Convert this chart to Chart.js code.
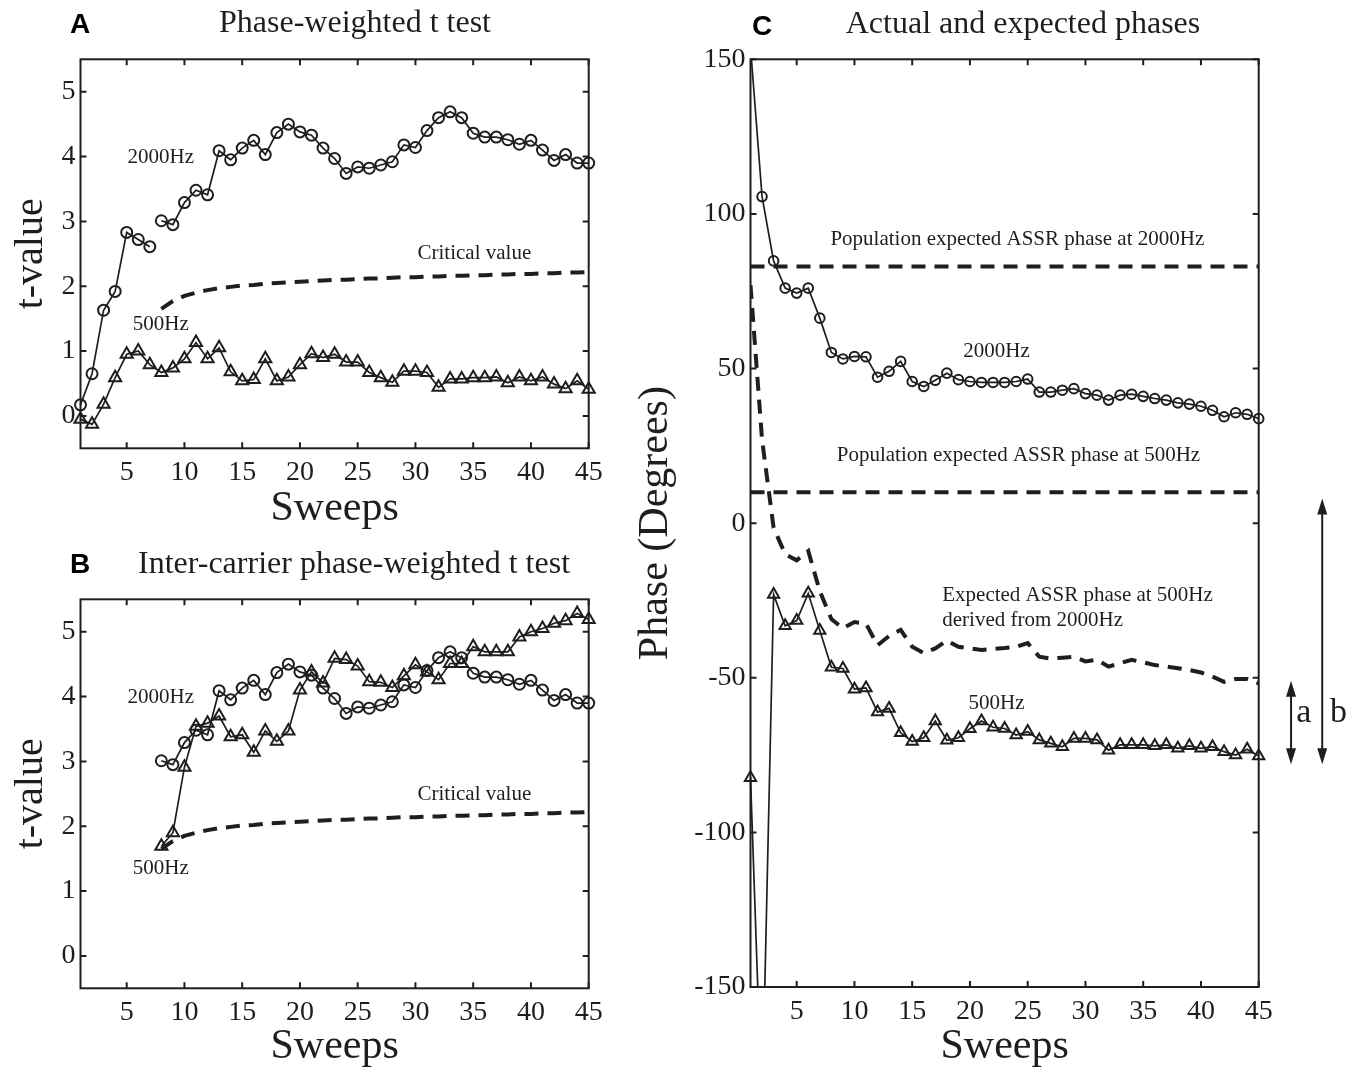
<!DOCTYPE html>
<html>
<head>
<meta charset="utf-8">
<script src="https://cdn.jsdelivr.net/npm/chart.js@4.4.0/dist/chart.umd.min.js"></script>
<style>
  html, body { margin: 0; padding: 0; background: #fff; overflow: hidden; }
  #wrap { position: relative; width: 1360px; height: 1068px; }
  canvas { position: absolute; }
</style>
</head>
<body>
<div id="wrap">
  <canvas id="panel-a" width="620" height="540" style="left:0px;top:0px;width:620px;height:540px"></canvas>
  <canvas id="panel-b" width="620" height="528" style="left:0px;top:540px;width:620px;height:528px"></canvas>
  <canvas id="panel-c" width="740" height="1068" style="left:620px;top:0px;width:740px;height:1068px"></canvas>
</div>
<script>
// x axis: sweep number
var sweeps = [1, 2, 3, 4, 5, 6, 7, 8, 9, 10, 11, 12, 13, 14, 15, 16, 17, 18, 19, 20, 21, 22, 23,
  24, 25, 26, 27, 28, 29, 30, 31, 32, 33, 34, 35, 36, 37, 38, 39, 40, 41, 42, 43, 44, 45];
var x_ticks = [5, 10, 15, 20, 25, 30, 35, 40, 45];
var t_ticks = [0, 1, 2, 3, 4, 5];
var phase_ticks = [-150, -100, -50, 0, 50, 100, 150];

// panel A / B: t-values
var t_2000 = [0.17, 0.65, 1.63, 1.92, 2.83, 2.72, 2.61, 3.01, 2.95, 3.29, 3.48, 3.41, 4.09, 3.95, 4.13,
  4.25, 4.03, 4.37, 4.50, 4.38, 4.33, 4.13, 3.97, 3.74, 3.84, 3.82, 3.87, 3.92, 4.18, 4.14, 4.40,
  4.60, 4.69, 4.60, 4.36, 4.30, 4.30, 4.26, 4.19, 4.25, 4.10, 3.94, 4.03, 3.90, 3.90];
// the 2000Hz trace in A is broken between sweep 7 and 8
var t_2000_gap_after = 7;
var t_500 = [-0.05, -0.13, 0.18, 0.59, 0.95, 1.00, 0.79, 0.67, 0.74, 0.88, 1.13, 0.88, 1.05, 0.68, 0.54,
  0.56, 0.88, 0.54, 0.60, 0.79, 0.96, 0.90, 0.95, 0.83, 0.83, 0.67, 0.59, 0.52, 0.69, 0.69, 0.67,
  0.44, 0.57, 0.57, 0.59, 0.59, 0.60, 0.51, 0.60, 0.54, 0.60, 0.49, 0.42, 0.54, 0.41];
var t_500_inter = [null, null, null, null, null, null, null, 1.69, 1.90, 2.91, 3.54, 3.59, 3.70, 3.38, 3.41,
  3.14, 3.47, 3.31, 3.47, 4.10, 4.38, 4.21, 4.59, 4.57, 4.47, 4.23, 4.22, 4.14, 4.32, 4.49, 4.38,
  4.26, 4.51, 4.51, 4.77, 4.69, 4.69, 4.69, 4.92, 5.00, 5.05, 5.13, 5.17, 5.28, 5.19];
var t_critical = [null, null, null, null, null, null, null, 1.65, 1.77, 1.85, 1.90, 1.94, 1.97, 1.99, 2.01,
  2.02, 2.04, 2.05, 2.06, 2.07, 2.08, 2.09, 2.10, 2.10, 2.11, 2.12, 2.12, 2.13, 2.14, 2.14, 2.15,
  2.15, 2.16, 2.16, 2.17, 2.17, 2.18, 2.18, 2.19, 2.19, 2.20, 2.20, 2.21, 2.21, 2.22];

// panel C: phases in degrees
var phase_2000 = [154, 105.6, 84.8, 76.0, 74.4, 76.0, 66.3, 55.2, 53.1, 53.9, 53.8, 47.2, 49.1, 52.3, 45.8,
  44.2, 46.2, 48.5, 46.4, 45.8, 45.5, 45.5, 45.5, 45.8, 46.6, 42.4, 42.4, 43.0, 43.5, 41.9, 41.4,
  39.8, 41.4, 41.7, 41.0, 40.3, 39.8, 38.9, 38.5, 37.8, 36.5, 34.4, 35.7, 35.2, 33.8];
var phase_500 = [-82.3, -190, -23.1, -33.2, -31.5, -22.7, -34.7, -46.6, -47.0, -53.7, -53.3, -61.1, -59.9, -67.8, -70.6,
  -69.4, -64.0, -70.2, -69.4, -66.5, -64.0, -66.0, -66.4, -68.5, -67.4, -70.1, -71.2, -72.3, -69.6, -69.6, -70.1,
  -73.4, -71.7, -71.7, -71.7, -72.0, -71.7, -72.8, -72.0, -72.8, -72.3, -73.9, -75.0, -73.1, -75.3];
var phase_500_expected = [77, 27, -1.5, -10, -12, -9, -22, -31, -34, -32, -32.5, -39.5, -36.5, -34.5, -40,
  -42, -40.5, -38, -40, -40.5, -41, -40.7, -40.4, -40, -38.8, -43.2, -43.8, -43.5, -43.2, -44.7, -44.2,
  -46.4, -45.3, -44.2, -45, -45.9, -46.4, -46.9, -47.5, -48.3, -49.6, -51.3, -50.4, -50.4, -51.8];
var pop_phase_2000 = 83;
var pop_phase_500 = 10;
// double arrows a and b, in degrees
var arrow_a = [-51, -78];
var arrow_b = [8, -78];

var serif = "'Liberation Serif', 'Times New Roman', serif";
var sans = "'Liberation Sans', Arial, sans-serif";
var ink = '#1e1e1e';
var tick_len = 6;

function to_points(values) {
  return sweeps.map(function(s, i) { return {x: s, y: values[i]}; });
}

function marker_line(values, style, radius) {
  return {
    data: to_points(values),
    borderColor: ink,
    borderWidth: 1.7,
    pointStyle: style,
    pointRadius: radius,
    pointBorderWidth: 2,
    pointBorderColor: ink,
    pointBackgroundColor: 'rgba(0,0,0,0)',
    clip: {left: 8, right: 8, top: 0, bottom: 0},
    tension: 0
  };
}

function dashed_line(points) {
  return {
    data: points,
    borderColor: ink,
    borderWidth: 4,
    borderDash: [14, 9],
    pointRadius: 0,
    clip: 0,
    tension: 0
  };
}

function make_scales(spec) {
  return {
    x: {
      type: 'linear', min: 1, max: 45,
      afterBuildTicks: function(scale) { scale.ticks = x_ticks.map(function(v) { return {value: v}; }); },
      afterFit: function(scale) { scale.height = spec.x_height; },
      grid: {display: false, drawTicks: false},
      border: {display: false},
      ticks: {font: {family: serif, size: 28}, color: ink, padding: 8, maxRotation: 0, autoSkip: false},
      title: {display: true, text: 'Sweeps', color: ink,
        font: {family: serif, size: 42, lineHeight: 1}, padding: {top: 0, bottom: spec.x_title_pad}}
    },
    y: {
      type: 'linear', min: spec.y_min, max: spec.y_max,
      afterBuildTicks: function(scale) { scale.ticks = spec.y_ticks.map(function(v) { return {value: v}; }); },
      afterFit: function(scale) { scale.width = spec.y_width; },
      grid: {display: false, drawTicks: false},
      border: {display: false},
      ticks: {font: {family: serif, size: 28}, color: ink, padding: 5, autoSkip: false},
      title: {display: true, text: spec.y_title, color: ink,
        font: {family: serif, size: spec.y_title_size, lineHeight: 1}, padding: {top: spec.y_title_pad, bottom: 0}}
    }
  };
}

// box, inward ticks, panel letter, title, notes and arrows
function panel_plugin(spec) {
  return {
    id: 'panel_' + spec.letter,
    afterDraw: function(chart) {
      var ctx = chart.ctx;
      var area = chart.chartArea;
      var xs = chart.scales.x;
      var ys = chart.scales.y;
      ctx.save();
      ctx.strokeStyle = ink;
      ctx.lineWidth = 2;
      ctx.strokeRect(area.left, area.top, area.right - area.left, area.bottom - area.top);
      ctx.beginPath();
      xs.ticks.forEach(function(t) {
        var px = xs.getPixelForValue(t.value);
        ctx.moveTo(px, area.bottom); ctx.lineTo(px, area.bottom - tick_len);
        ctx.moveTo(px, area.top); ctx.lineTo(px, area.top + tick_len);
      });
      ys.ticks.forEach(function(t) {
        var py = ys.getPixelForValue(t.value);
        ctx.moveTo(area.left, py); ctx.lineTo(area.left + tick_len, py);
        ctx.moveTo(area.right, py); ctx.lineTo(area.right - tick_len, py);
      });
      ctx.stroke();

      ctx.fillStyle = '#000';
      ctx.textBaseline = 'middle';
      ctx.textAlign = 'center';
      ctx.font = 'bold 28px ' + sans;
      ctx.fillText(spec.letter, spec.letter_pos[0], spec.letter_pos[1]);
      ctx.fillStyle = ink;
      ctx.font = '32px ' + serif;
      ctx.fillText(spec.title, spec.title_pos[0], spec.title_pos[1]);

      spec.notes.forEach(function(n) {
        ctx.font = (n.size || 21) + 'px ' + serif;
        ctx.textAlign = n.align || 'center';
        ctx.fillText(n.text, xs.getPixelForValue(n.x), ys.getPixelForValue(n.y));
      });

      (spec.arrows || []).forEach(function(a) {
        var px = xs.getPixelForValue(a.x);
        var y1 = ys.getPixelForValue(a.range[0]);
        var y2 = ys.getPixelForValue(a.range[1]);
        ctx.lineWidth = 2;
        ctx.beginPath();
        ctx.moveTo(px, y1 + 12); ctx.lineTo(px, y2 - 12);
        ctx.stroke();
        ctx.beginPath();
        ctx.moveTo(px, y1); ctx.lineTo(px - 5, y1 + 16); ctx.lineTo(px + 5, y1 + 16); ctx.closePath();
        ctx.moveTo(px, y2); ctx.lineTo(px - 5, y2 - 16); ctx.lineTo(px + 5, y2 - 16); ctx.closePath();
        ctx.fill();
      });
      ctx.restore();
    }
  };
}

function make_chart(canvas_id, spec, datasets) {
  return new Chart(canvas_id, {
    type: 'line',
    data: {datasets: datasets},
    options: {
      responsive: false,
      animation: false,
      devicePixelRatio: 1,
      layout: {padding: spec.padding},
      plugins: {legend: {display: false}, tooltip: {enabled: false}},
      scales: make_scales(spec)
    },
    plugins: [panel_plugin(spec)]
  });
}

var spec_a = {
  letter: 'A', letter_pos: [80, 25], title: 'Phase-weighted t test', title_pos: [355, 24],
  padding: {left: 0, top: 59.3, right: 31.3, bottom: 0},
  x_height: 91.7, x_title_pad: 10, y_width: 80.5, y_title: 't-value', y_title_size: 40, y_title_pad: 11,
  y_min: -0.5, y_max: 5.5, y_ticks: t_ticks,
  notes: [
    {text: '2000Hz', x: 7.95, y: 3.98},
    {text: '500Hz', x: 7.95, y: 1.41},
    {text: 'Critical value', x: 35.1, y: 2.5}
  ]
};

var spec_b = {
  letter: 'B', letter_pos: [80, 25], title: 'Inter-carrier phase-weighted t test', title_pos: [354, 25],
  padding: {left: 0, top: 59.3, right: 31.3, bottom: 0},
  x_height: 79.7, x_title_pad: 0, y_width: 80.5, y_title: 't-value', y_title_size: 40, y_title_pad: 11,
  y_min: -0.5, y_max: 5.5, y_ticks: t_ticks,
  notes: [
    {text: '2000Hz', x: 7.95, y: 3.98},
    {text: '500Hz', x: 7.95, y: 1.35},
    {text: 'Critical value', x: 35.1, y: 2.49}
  ]
};

var spec_c = {
  letter: 'C', letter_pos: [142, 27], title: 'Actual and expected phases', title_pos: [403, 25],
  padding: {left: 0, top: 59.3, right: 101.3, bottom: 0},
  x_height: 81, x_title_pad: 0, y_width: 130.5, y_title: 'Phase (Degrees)', y_title_size: 42, y_title_pad: 15,
  y_min: -150, y_max: 150, y_ticks: phase_ticks,
  notes: [
    {text: 'Population expected ASSR phase at 2000Hz', x: 24.1, y: 91.7},
    {text: '2000Hz', x: 22.3, y: 55.5},
    {text: 'Population expected ASSR phase at 500Hz', x: 24.2, y: 21.8},
    {text: 'Expected ASSR phase at 500Hz', x: 17.6, y: -23.5, align: 'left'},
    {text: 'derived from 2000Hz', x: 17.6, y: -31.6, align: 'left'},
    {text: '500Hz', x: 22.3, y: -58.2},
    {text: 'a', x: 48.9, y: -61.5, size: 34},
    {text: 'b', x: 51.9, y: -61.5, size: 34}
  ],
  arrows: [
    {x: 47.8, range: arrow_a},
    {x: 50.5, range: arrow_b}
  ]
};

function setup() {
  var a_2000 = marker_line(t_2000, 'circle', 5.5);
  a_2000.segment = {
    borderColor: function(ctx) { return ctx.p0.parsed.x === t_2000_gap_after ? 'rgba(0,0,0,0)' : undefined; }
  };
  make_chart('panel-a', spec_a, [
    a_2000,
    marker_line(t_500, 'triangle', 7),
    dashed_line(to_points(t_critical))
  ]);

  var b_2000 = marker_line(t_2000.map(function(v, i) { return sweeps[i] > t_2000_gap_after ? v : null; }), 'circle', 5.5);
  make_chart('panel-b', spec_b, [
    b_2000,
    marker_line(t_500_inter, 'triangle', 7),
    dashed_line(to_points(t_critical))
  ]);

  make_chart('panel-c', spec_c, [
    marker_line(phase_2000, 'circle', 4.8),
    marker_line(phase_500, 'triangle', 6.5),
    dashed_line(to_points(phase_500_expected)),
    dashed_line([{x: 1, y: pop_phase_2000}, {x: 45, y: pop_phase_2000}]),
    dashed_line([{x: 1, y: pop_phase_500}, {x: 45, y: pop_phase_500}])
  ]);
}

document.addEventListener('DOMContentLoaded', setup);
</script>
</body>
</html>
